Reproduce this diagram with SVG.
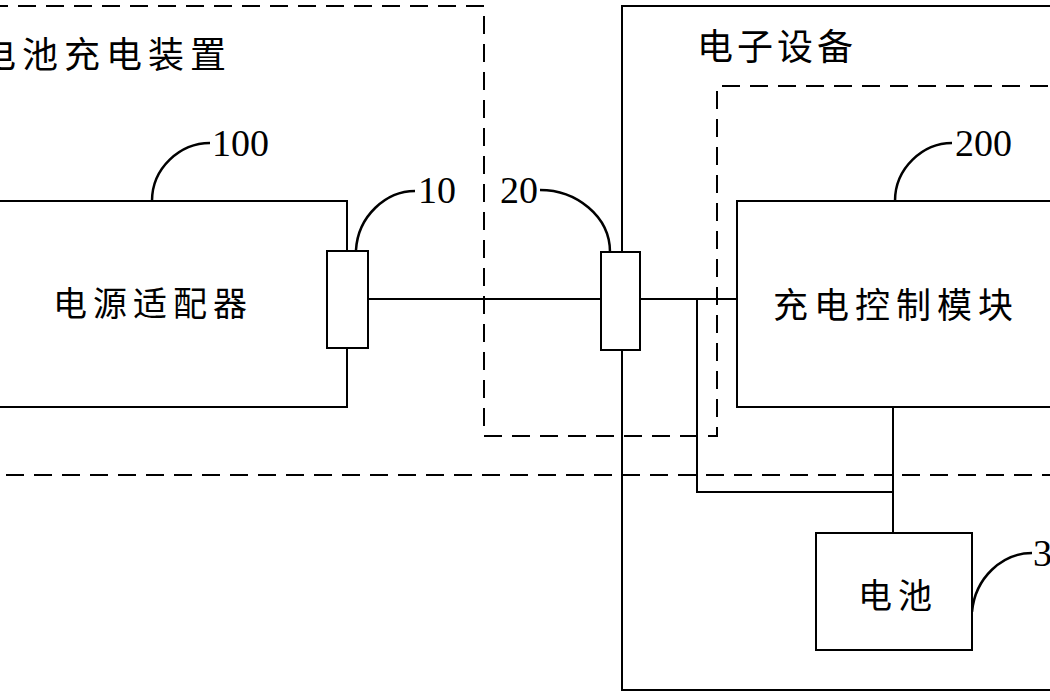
<svg xmlns="http://www.w3.org/2000/svg" width="1050" height="700" viewBox="0 0 1050 700">
<style>
.box{fill:#fff;stroke:#000;stroke-width:2}
.solid{fill:none;stroke:#000;stroke-width:2}
.dash{fill:none;stroke:#000;stroke-width:2;stroke-dasharray:18 10}
.wire{fill:none;stroke:#000;stroke-width:2}
.lead{fill:none;stroke:#000;stroke-width:2.5}
.cn{font-family:"Noto Sans CJK SC","Noto Sans CJK JP",sans-serif;font-size:34px;letter-spacing:6px;fill:#000;dominant-baseline:central}
.num{font-family:"Liberation Serif",serif;font-size:38px;fill:#000}
</style>
<rect width="1050" height="700" fill="#fff"/>
<g id="charging-device">
<path class="dash" d="M-10,6 H484 V436 H717 V86 H1060"/>
<path class="dash" d="M1060,475 H-10"/>
<text class="cn" x="-20" y="52" style="font-size:36px">电池充电装置</text>
</g>
<g id="electronic-device">
<rect class="solid" x="622" y="6" width="440" height="684"/>
<text class="cn" x="697" y="44" style="font-size:36px;letter-spacing:4px">电子设备</text>
</g>
<g id="connectors">
<path class="wire" d="M368,299 H601"/>
<path class="wire" d="M640,299 H737"/>
<path class="wire" d="M697,299 V492 H893"/>
<path class="wire" d="M893,407 V533"/>
<path class="lead" d="M152,201 C152,168 180,143 210,143"/>
<path class="lead" d="M356,250 C358,216 386,191 415,191"/>
<path class="lead" d="M540,190 C576,190 610,216 610,252"/>
<path class="lead" d="M895,201 C895,168 923,143 952,143"/>
<path class="lead" d="M972,612 C975,578 1002,553 1032,553"/>
</g>
<g id="power-adapter">
<rect class="box" x="-10" y="201" width="357" height="206"/>
<text class="cn" x="53" y="301">电源适配器</text>
<text class="num" x="212" y="156">100</text>
</g>
<g id="port-10">
<rect class="box" x="327" y="251" width="41" height="97"/>
<text class="num" x="418" y="203">10</text>
</g>
<g id="port-20">
<rect class="box" x="601" y="252" width="39" height="98"/>
<text class="num" x="500" y="203">20</text>
</g>
<g id="charge-control">
<rect class="box" x="737" y="201" width="330" height="206"/>
<text class="cn" x="773" y="302" style="font-size:35px">充电控制模块</text>
<text class="num" x="955" y="156">200</text>
</g>
<g id="battery">
<rect class="box" x="816" y="533" width="156" height="117"/>
<text class="cn" x="858" y="593">电池</text>
<text class="num" x="1033" y="566">300</text>
</g>
</svg>
